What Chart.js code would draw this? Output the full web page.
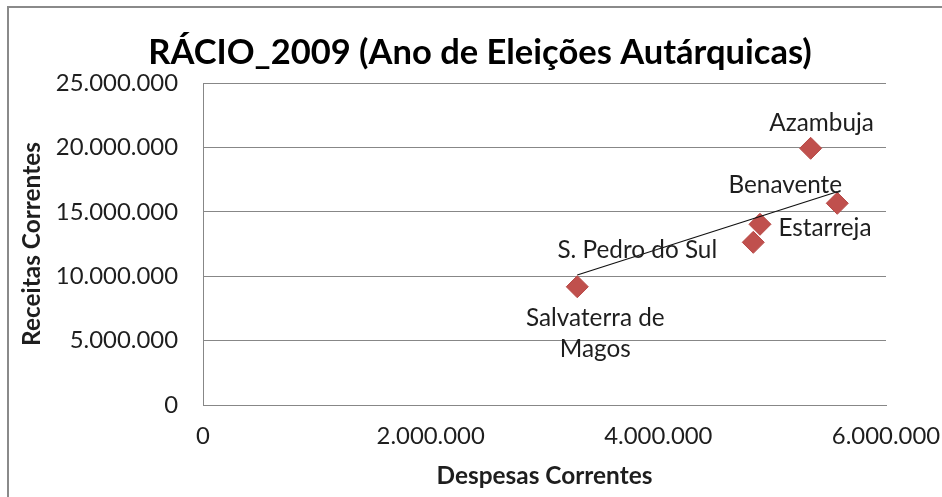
<!DOCTYPE html>
<html>
<head>
<meta charset="utf-8">
<script src="https://cdn.jsdelivr.net/npm/chart.js@4.4.1/dist/chart.umd.min.js"></script>
<style>
  html, body { margin: 0; padding: 0; background: #fff; overflow: hidden; }
  #wrap { width: 942px; height: 497px; position: relative; }
</style>
</head>
<body>
<div id="wrap"><canvas id="c"></canvas></div>
<script>
// ---- data ----
const municipios = ['Azambuja', 'Benavente', 'Estarreja', 'S. Pedro do Sul', 'Salvaterra de Magos'];
const despesasCorrentes = [5338000, 5572000, 4893000, 4834000, 3288000];
const receitasCorrentes = [19930000, 15660000, 14030000, 12630000, 9180000];
const trendX = [3288000, 5572000];
const trendY = [10090000, 16560000];
const xTickValues = [0, 2000000, 4000000, 6000000];
const yTickValues = [0, 5000000, 10000000, 15000000, 20000000, 25000000];
const chartTitle = 'RÁCIO_2009 (Ano de Eleições Autárquicas)';
const xTitle = 'Despesas Correntes';
const yTitle = 'Receitas Correntes';

// ---- label placement (style, not data) ----
const labelLines = [['Azambuja'], ['Benavente'], ['Estarreja'], ['S. Pedro do Sul'], ['Salvaterra de', 'Magos']];
const labelOffsets = [[11, -25], [-52, -18], [65, 4], [-116, 8], [18, 31]];

const FONT = 'Lato';
const TXT = '#1e1e1e';
const GRID = '#878787';
const TICK_SIZE = 23.9;
const LABEL_SIZE = 24.3;
const AXIS_TITLE_SIZE = 24.4;

function fmt(n) {
  return String(Math.round(n)).replace(/\B(?=(\d{3})+(?!\d))/g, '.');
}

const framePlugin = {
  id: 'frame',
  beforeDraw(chart) {
    const ctx = chart.ctx;
    ctx.save();
    ctx.fillStyle = '#fff';
    ctx.fillRect(0, 0, chart.width, chart.height);
    ctx.strokeStyle = '#8a8a8a';
    ctx.lineWidth = 2;
    ctx.strokeRect(8, 7, 1200, 1200);
    ctx.restore();
  }
};

const labelPlugin = {
  id: 'pointLabels',
  afterDatasetsDraw(chart) {
    const meta = chart.getDatasetMeta(1);
    const ctx = chart.ctx;
    ctx.save();
    ctx.font = LABEL_SIZE + 'px ' + FONT;
    ctx.fillStyle = TXT;
    ctx.textAlign = 'center';
    ctx.textBaseline = 'middle';
    meta.data.forEach((pt, i) => {
      const [dx, dy] = labelOffsets[i];
      labelLines[i].forEach((line, k) => {
        ctx.fillText(line, pt.x + dx, pt.y + dy + k * 31);
      });
    });
    ctx.restore();
  }
};

const ctx = document.getElementById('c');
new Chart(ctx, {
  data: {
    datasets: [
      {
        type: 'line',
        label: 'Linear',
        data: trendX.map((x, i) => ({ x, y: trendY[i] })),
        borderColor: '#111',
        borderWidth: 1.2,
        pointRadius: 0,
        fill: false,
        order: 0
      },
      {
        type: 'scatter',
        label: 'Rácio',
        data: despesasCorrentes.map((x, i) => ({ x, y: receitasCorrentes[i] })),
        pointStyle: 'rectRot',
        pointRadius: 11,
        pointHoverRadius: 11,
        backgroundColor: '#C0504D',
        borderColor: '#B84A47',
        borderWidth: 1,
        order: 1
      }
    ]
  },
  options: {
    responsive: true,
    maintainAspectRatio: false,
    animation: false,
    events: [],
    layout: { padding: { left: 18, right: 0, top: 0, bottom: 0 } },
    plugins: {
      legend: { display: false },
      tooltip: { enabled: false },
      title: {
        display: true,
        text: chartTitle,
        color: '#000',
        font: { family: FONT, size: 34.5, weight: 'bold' },
        padding: { top: 32.3, bottom: 9.3 }
      }
    },
    scales: {
      x: {
        type: 'linear',
        min: 0,
        max: 6000000,
        afterBuildTicks(scale) { scale.ticks = xTickValues.map(v => ({ value: v })); },
        afterFit(scale) { scale.height = 92; scale.paddingRight = 0; scale.paddingLeft = 0; },
        grid: { display: false, drawTicks: false },
        border: { display: true, color: GRID, width: 1 },
        ticks: {
          color: TXT,
          font: { family: FONT, size: TICK_SIZE },
          padding: 17,
          maxRotation: 0,
          autoSkip: false,
          callback: v => fmt(v)
        },
        title: {
          display: true,
          text: xTitle,
          color: TXT,
          font: { family: FONT, size: AXIS_TITLE_SIZE, weight: 'bold' },
          padding: { top: 0, bottom: 6.3 }
        }
      },
      y: {
        type: 'linear',
        min: 0,
        max: 25000000,
        afterBuildTicks(scale) { scale.ticks = yTickValues.map(v => ({ value: v })); },
        afterFit(scale) { scale.width = 185; scale.paddingTop = 0; scale.paddingBottom = 0; },
        grid: { display: true, color: GRID, lineWidth: 1, drawTicks: false },
        border: { display: true, color: GRID, width: 1 },
        ticks: {
          color: TXT,
          font: { family: FONT, size: TICK_SIZE },
          padding: 25,
          autoSkip: false,
          callback: v => fmt(v)
        },
        title: {
          display: true,
          text: yTitle,
          color: TXT,
          font: { family: FONT, size: AXIS_TITLE_SIZE, weight: 'bold' },
          padding: { top: 0, bottom: 0 }
        }
      },
      yR: {
        type: 'linear',
        position: 'right',
        display: true,
        afterFit(scale) { scale.width = 56; },
        grid: { display: false, drawTicks: false },
        border: { display: false },
        ticks: { display: false },
        title: { display: false }
      }
    }
  },
  plugins: [framePlugin, labelPlugin]
});
</script>
</body>
</html>
